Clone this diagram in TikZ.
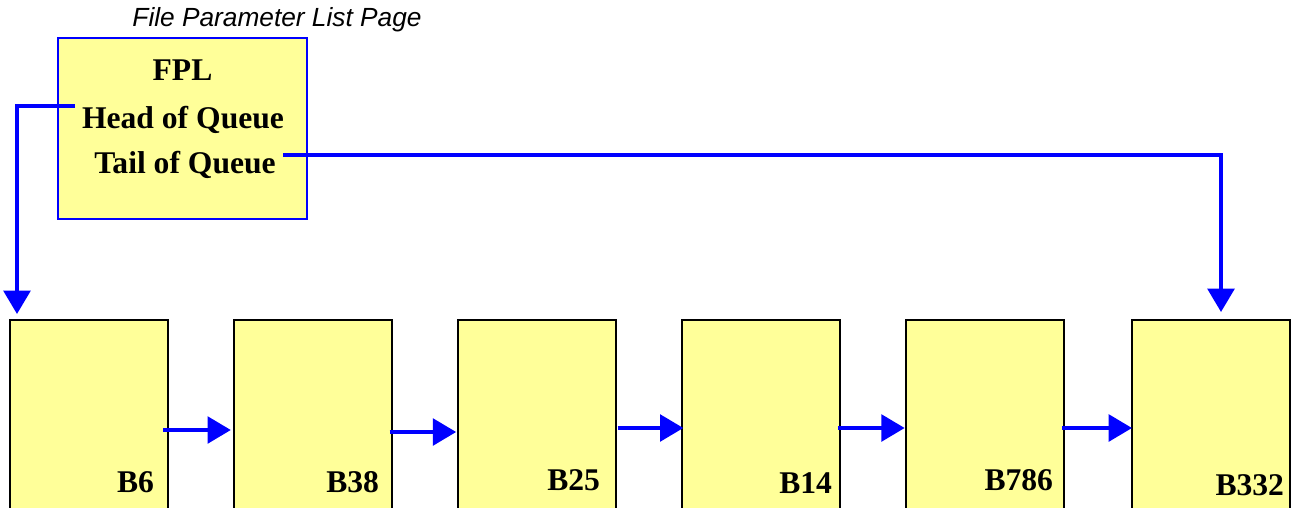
\documentclass[tikz,border=0pt]{standalone}
\usepackage{fontspec}
\setmainfont{Liberation Serif}
\newfontfamily\titlefont{Liberation Sans}
\usetikzlibrary{arrows.meta}
\definecolor{paleyellow}{RGB}{255,255,153}
\definecolor{linkblue}{RGB}{0,0,255}
\tikzset{
  blockbox/.style={draw=black, line width=1.5pt, fill=paleyellow, minimum width=118.5pt, minimum height=150pt, inner sep=0pt, outer sep=0pt},
  fplbox/.style={draw=linkblue, line width=1.5pt, fill=paleyellow, minimum width=186.75pt, minimum height=135.75pt, inner sep=0pt, outer sep=0pt},
  boldtext/.style={font=\fontsize{23.7pt}{26pt}\selectfont\bfseries, inner sep=0pt, outer sep=0pt},
  link/.style={draw=linkblue, line width=2.8pt, -{Triangle[length=17.5pt,width=20pt]}},
}
\begin{document}
\begin{tikzpicture}[x=0.75pt,y=-0.75pt]
\useasboundingbox (0,0) rectangle (1294,507);
\clip (0,0) rectangle (1294,507);
% title
\node[font=\titlefont\itshape\fontsize{19.7pt}{22pt}\selectfont, anchor=base, inner sep=0pt] (title) at (277,26) {File Parameter List Page};
% FPL box
\node[fplbox] (fpl) at (182.5,128.5) {};
\node[boldtext, anchor=base] (fpltxt) at (182.5,80) {FPL};
\node[boldtext, anchor=base] (head) at (183,128) {Head of Queue};
\node[boldtext, anchor=base] (tail) at (185,173) {Tail of Queue};
% blocks
\node[blockbox] (b6) at (89,420) {};
\node[blockbox] (b38) at (312.5,420) {};
\node[blockbox] (b25) at (536.5,420) {};
\node[blockbox] (b14) at (761,420) {};
\node[blockbox] (b786) at (985,420) {};
\node[blockbox] (b332) at (1211,420) {};
\node[boldtext, anchor=base east] (l6) at (154,492) {B6};
\node[boldtext, anchor=base east] (l38) at (379,492) {B38};
\node[boldtext, anchor=base east] (l25) at (600,490) {B25};
\node[boldtext, anchor=base east] (l14) at (832,493) {B14};
\node[boldtext, anchor=base east] (l786) at (1053,490) {B786};
\node[boldtext, anchor=base east] (l332) at (1284,495) {B332};
% queue pointers
\coordinate (hq) at (75,106);
\coordinate (hqtip) at (17,314);
\coordinate (tq) at (283,155);
\coordinate (tqtip) at (1221,312);
\draw[link] (hq) -| (hqtip);
\draw[link] (tq) -| (tqtip);
% chain
\draw[link] ([xshift=-3.75pt]b6.east |- 0,430) -- ([xshift=-2pt]b38.west |- 0,430);
\draw[link] ([xshift=-1.5pt]b38.east |- 0,432) -- ([xshift=-1pt]b25.west |- 0,432);
\draw[link] ([xshift=1.5pt]b25.east |- 0,428) -- ([xshift=1pt]b14.west |- 0,428);
\draw[link] ([xshift=-1.5pt]b14.east |- 0,428) -- ([xshift=-1pt]b786.west |- 0,428);
\draw[link] ([xshift=-1.5pt]b786.east |- 0,428) -- ([xshift=0pt]b332.west |- 0,428);
\end{tikzpicture}
\end{document}
